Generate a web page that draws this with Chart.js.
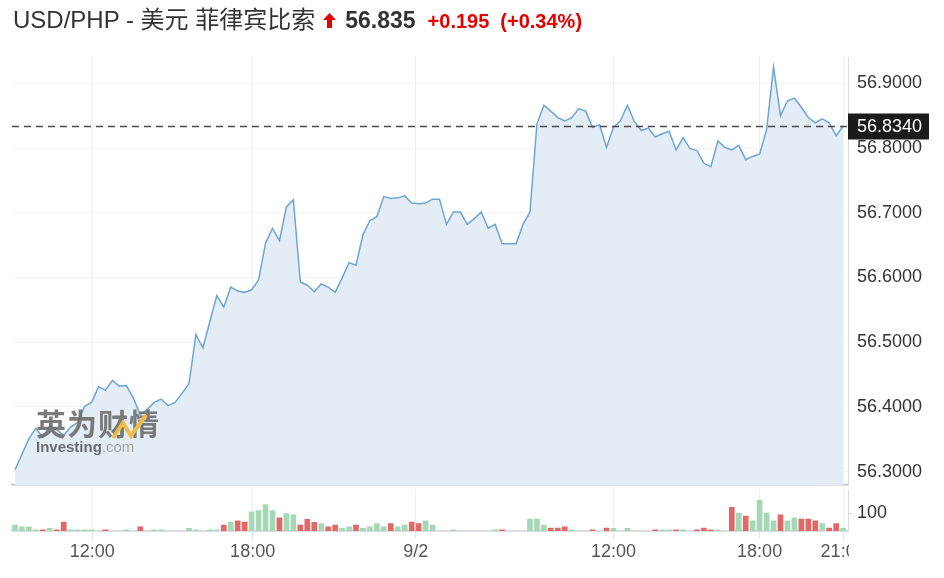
<!DOCTYPE html>
<html>
<head>
<meta charset="utf-8">
<script src="https://cdn.jsdelivr.net/npm/chart.js@4.4.1/dist/chart.umd.min.js"></script>
<style>
  body { margin: 0; background: #fff; font-family: "Liberation Sans", Arial, "Noto Sans CJK SC", sans-serif; }
  #wrap { position: relative; width: 944px; height: 578px; overflow: hidden; }
  #mainBox { position: absolute; left: 0; top: 0; width: 944px; height: 490px; }
  #volBox { position: absolute; left: 0; top: 0; width: 944px; height: 578px; }
  #head { position: absolute; left: 13px; top: 0px; display: flex; align-items: baseline; white-space: nowrap; }
  #head .name { font-size: 24px; color: #333; }
  #head svg { margin-left: 8px; }
  #head .price { font-size: 23px; font-weight: bold; color: #333; margin-left: 9px; }
  #head .chg { font-size: 20px; font-weight: bold; color: #e60000; margin-left: 12px; }
  #head .pct { font-size: 20px; font-weight: bold; color: #e60000; margin-left: 11px; }
  #mark { position: absolute; left: 36px; top: 405px; opacity: 0.85; }
  #mark .cn { font-family: "Noto Sans CJK SC", sans-serif; font-size: 30px; font-weight: bold; color: #666; line-height: 34px; letter-spacing: 1px; }
  #mark .en { font-size: 15px; line-height: 16px; color: #555; font-weight: bold; }
  #mark .en span { font-weight: normal; color: #999; }
  #mark svg { position: absolute; left: 76px; top: 8px; }
</style>
</head>
<body>
<div id="wrap">
  <div id="mainBox"><canvas id="mainChart"></canvas></div>
  <div id="volBox"><canvas id="volChart"></canvas></div>
  <div id="head">
    <span class="name">USD/PHP - 美元 菲律宾比索</span>
    <svg width="13" height="15" viewBox="0 0 13 15"><path d="M6.5 0 L13 7 L9 7 L9 15 L4 15 L4 7 L0 7 Z" fill="#e60000"/></svg>
    <span class="price">56.835</span>
    <span class="chg">+0.195</span>
    <span class="pct">(+0.34%)</span>
  </div>
  <div id="mark">
    <div class="cn">英为财情</div>
    <div class="en">Investing<span>.com</span></div>
    <svg width="40" height="30" viewBox="0 0 40 30"><polyline points="1,25 11,10 19,23 34,2" fill="none" stroke="#f2b62c" stroke-width="4"/></svg>
  </div>
</div>
<script>
/* --------------------------
   DATA
--------------------------- */
const tickPos = [11.1, 34.15, 57.6, 86, 107, 119];
const tickLabels = ['12:00', '18:00', '9/2', '12:00', '18:00', '21:00'];

const priceTicks = [56.3, 56.4, 56.5, 56.6, 56.7, 56.8, 56.9];
const lastPrice = 56.834;

// USD/PHP, 15 minute points
const prices = [
    56.303, 56.327, 56.351, 56.367, 56.353, 56.371, 56.365, 56.356, 56.369, 56.376,
    56.401, 56.407, 56.431, 56.426, 56.441, 56.432, 56.433, 56.414, 56.388, 56.396,
    56.407, 56.412, 56.402, 56.407, 56.421, 56.436, 56.512, 56.491, 56.532, 56.572,
    56.554, 56.585, 56.579, 56.577, 56.581, 56.596, 56.653, 56.676, 56.657, 56.709,
    56.720, 56.593, 56.588, 56.578, 56.590, 56.585, 56.577, 56.599, 56.623, 56.619,
    56.666, 56.688, 56.694, 56.725, 56.722, 56.723, 56.726, 56.715, 56.714, 56.715,
    56.721, 56.721, 56.682, 56.701, 56.701, 56.682, 56.691, 56.701, 56.676, 56.682,
    56.652, 56.652, 56.652, 56.682, 56.701, 56.837, 56.866, 56.857, 56.847, 56.842,
    56.847, 56.861, 56.857, 56.832, 56.836, 56.801, 56.832, 56.842, 56.866, 56.841,
    56.827, 56.831, 56.817, 56.822, 56.826, 56.797, 56.816, 56.799, 56.796, 56.776,
    56.771, 56.811, 56.801, 56.797, 56.804, 56.782, 56.787, 56.791, 56.828, 56.925,
    56.850, 56.873, 56.877, 56.863, 56.847, 56.839, 56.845, 56.839, 56.819, 56.834
];

// volume per point, null = no bar
const volumes = [
    33, 24, 24, 7, 7, 15, 7, 50, 7, 7,
    7, 7, null, 7, null, null, 7, null, 24, null,
    7, 7, null, null, null, 15, 7, null, 7, 7,
    33, 50, 57, 50, 107, 115, 148, 115, 74, 98,
    91, 33, 65, 48, 41, 24, 33, 15, 24, 33,
    15, 24, 41, 24, 41, 24, 33, 50, 41, 57,
    33, null, null, 7, null, null, null, null, null, 7,
    7, null, null, null, 67, 67, 33, 17, 17, 24,
    7, null, null, 7, null, 17, 15, null, 15, null,
    null, null, 7, 7, 7, 7, 7, null, 7, 17,
    7, 7, null, 133, 100, 83, 57, 174, 100, 57,
    91, 57, 74, 67, 67, 57, 41, 17, 41, 15
];

// u = green bar, d = red bar
const volSide = [
    'u','u','u','u','d','u','d','d','u','u',
    'u','u','u','d','u','u','u','u','d','u',
    'u','u','u','u','u','u','u','u','u','u',
    'd','u','d','d','u','u','u','u','d','u',
    'u','d','d','d','u','d','d','u','u','d',
    'u','u','u','u','d','u','u','d','d','u',
    'u','u','u','u','u','u','u','u','u','u',
    'd','u','u','u','u','u','u','d','d','d',
    'u','u','u','d','u','d','u','u','u','u',
    'u','u','d','u','u','d','u','u','d','d',
    'd','u','u','d','u','d','u','u','u','u',
    'd','u','u','d','d','d','u','d','d','u'
];

const xMin = -0.43, xMax = 119.7;
const yMin = 56.2794, yMax = 56.9406;
const volMax = 230;

Chart.defaults.font.family = '"Liberation Sans", Arial, sans-serif';
Chart.defaults.animation = false;

const xTicks = scale => { scale.ticks = tickPos.map(v => ({ value: v })); };
// keep the plot box where the layout padding puts it
const fixWidth = s => { s.width = 96; s.paddingTop = 0; s.paddingBottom = 0; };

/* --------------------------
   PRICE CHART
--------------------------- */
const lastLine = {
    id: 'lastLine',
    afterDraw(chart) {
        const { ctx, chartArea, scales } = chart;
        const py = Math.round(scales.y.getPixelForValue(lastPrice)) + 0.5;
        ctx.save();
        ctx.strokeStyle = '#4a4a4a';
        ctx.lineWidth = 1.3;
        ctx.setLineDash([7, 5]);
        ctx.beginPath();
        ctx.moveTo(chartArea.left, py);
        ctx.lineTo(chartArea.right, py);
        ctx.stroke();
        ctx.setLineDash([]);
        ctx.fillStyle = '#1b1b1b';
        ctx.fillRect(chartArea.right, py - 13, 81, 26);
        ctx.fillStyle = '#fff';
        ctx.font = '18px "Liberation Sans", Arial';
        ctx.textBaseline = 'middle';
        ctx.fillText(lastPrice.toFixed(4), chartArea.right + 9, py + 1);
        ctx.restore();
    }
};

new Chart(document.getElementById('mainChart'), {
    type: 'line',
    data: {
        datasets: [{
            data: prices.map((v, i) => ({ x: i, y: v })),
            borderColor: '#6ca6d6',
            borderWidth: 1.5,
            backgroundColor: '#e4ecf5',
            fill: 'start',
            pointRadius: 0,
            tension: 0
        }]
    },
    options: {
        responsive: true,
        maintainAspectRatio: false,
        layout: { padding: { left: 12, right: 0, top: 57, bottom: 5 } },
        plugins: { legend: { display: false }, tooltip: { enabled: false } },
        scales: {
            x: {
                type: 'linear', min: xMin, max: xMax,
                afterBuildTicks: xTicks,
                afterFit: s => { s.height = 0; s.paddingLeft = 0; s.paddingRight = 0; },
                ticks: { display: false },
                grid: { color: '#efeff1', drawTicks: false },
                border: { color: '#c4c4c4', width: 1.5 }
            },
            y: {
                position: 'right', min: yMin, max: yMax,
                afterBuildTicks: s => { s.ticks = priceTicks.map(v => ({ value: v })); },
                afterFit: fixWidth,
                ticks: {
                    color: '#333', font: { size: 18 }, padding: 9,
                    callback: v => v.toFixed(4)
                },
                grid: { color: '#f2f2f2', drawTicks: false },
                border: { color: '#dcdcdc', width: 1 }
            }
        }
    },
    plugins: [lastLine]
});

/* --------------------------
   VOLUME CHART
--------------------------- */
// x labels get cut at the plot's right edge
const clipLabels = {
    id: 'clipLabels',
    beforeDraw(chart) {
        const { ctx, chartArea, width, height } = chart;
        ctx.save();
        ctx.beginPath();
        ctx.rect(0, 0, width, chartArea.bottom + 2);
        ctx.rect(0, chartArea.bottom + 2, chartArea.right + 1, height);
        ctx.clip();
    },
    afterDraw(chart) { chart.ctx.restore(); }
};

new Chart(document.getElementById('volChart'), {
    type: 'bar',
    data: {
        datasets: [{
            data: volumes.map((v, i) => ({ x: i, y: v })),
            backgroundColor: volSide.map(s => s === 'u' ? '#a5d8b6' : '#e26868'),
            barThickness: 5
        }]
    },
    options: {
        responsive: true,
        maintainAspectRatio: false,
        layout: { padding: { left: 12, right: 0, top: 490, bottom: 0 } },
        plugins: { legend: { display: false }, tooltip: { enabled: false } },
        scales: {
            x: {
                type: 'linear', min: xMin, max: xMax, offset: false,
                afterBuildTicks: xTicks,
                afterFit: s => { s.height = 47; s.paddingLeft = 0; s.paddingRight = 0; },
                ticks: {
                    color: '#555', font: { size: 18 }, padding: 2,
                    maxRotation: 0, autoSkip: false,
                    callback: v => tickLabels[tickPos.indexOf(v)]
                },
                grid: { offset: false, color: '#efeff1', tickLength: 8, tickColor: '#e4e4e8' },
                border: { color: '#dcdde3', width: 2 }
            },
            y: {
                position: 'right', min: 0, max: volMax,
                afterBuildTicks: s => { s.ticks = [{ value: 100 }]; },
                afterFit: fixWidth,
                ticks: { color: '#333', font: { size: 18 }, padding: 5 },
                grid: { drawOnChartArea: false, tickLength: 4, tickColor: '#cfcfcf' },
                border: { color: '#dcdcdc', width: 1 }
            }
        }
    },
    plugins: [clipLabels]
});
</script>
</body>
</html>
